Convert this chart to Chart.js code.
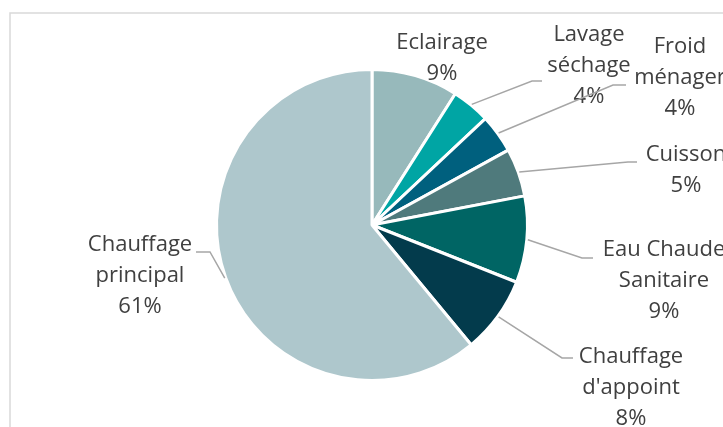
<!DOCTYPE html>
<html>
<head>
<meta charset="utf-8">
<script src="https://cdn.jsdelivr.net/npm/chart.js@4"></script>
<style>
  body { margin: 0; background: #fff; }
</style>
</head>
<body>
<canvas id="pieChart" width="723" height="427"></canvas>
<script>
const categories = ['Eclairage', 'Lavage séchage', 'Froid ménager', 'Cuisson', 'Eau Chaude Sanitaire', "Chauffage d'appoint", 'Chauffage principal'];
const shares = [9, 4, 4, 5, 9, 8, 61];
const sliceColors = ['#97b9bb', '#00a5a4', '#00607e', '#4f7a7c', '#006564', '#033b4c', '#aec7cc'];
const labelLines = [['Eclairage'], ['Lavage', 'séchage'], ['Froid', 'ménager'], ['Cuisson'], ['Eau Chaude', 'Sanitaire'], ['Chauffage', "d'appoint"], ['Chauffage', 'principal']];

// where each label sits: text centre / first line, plus leader elbow and end
const labelPlaces = [
    { text: [442, 43], elbow: null },
    { text: [589, 35], elbow: [532, 81], end: 542 },
    { text: [680, 47], elbow: [613, 85], end: 626 },
    { text: [686, 155], elbow: [628, 162], end: 637 },
    { text: [664, 250], elbow: [582, 258], end: 593 },
    { text: [631, 357], elbow: [562, 358], end: 573 },
    { text: [140, 245], elbow: [210, 252], end: 196 }
];

const frame = {
    id: 'frame',
    beforeDraw(chart) {
        const c = chart.ctx;
        c.save();
        c.strokeStyle = '#d9d9d9';
        c.lineWidth = 1.5;
        c.beginPath();
        c.moveTo(10, 427);
        c.lineTo(10, 13);
        c.lineTo(723, 13);
        c.stroke();
        c.restore();
    }
};

const sliceLabels = {
    id: 'sliceLabels',
    afterDatasetsDraw(chart) {
        const c = chart.ctx;
        const arcs = chart.getDatasetMeta(0).data;
        c.save();
        c.font = '22px "Open Sans"';
        c.fillStyle = '#404040';
        c.textAlign = 'center';
        c.textBaseline = 'middle';
        arcs.forEach((arc, i) => {
            const p = labelPlaces[i];
            if (p.elbow) {
                const mid = (arc.startAngle + arc.endAngle) / 2;
                const r = arc.outerRadius + 1;
                c.strokeStyle = '#a6a6a6';
                c.lineWidth = 1.5;
                c.beginPath();
                c.moveTo(arc.x + Math.cos(mid) * r, arc.y + Math.sin(mid) * r);
                c.lineTo(p.elbow[0], p.elbow[1]);
                c.lineTo(p.end, p.elbow[1]);
                c.stroke();
            }
            const lines = labelLines[i].concat([shares[i] + '%']);
            lines.forEach((t, k) => c.fillText(t, p.text[0], p.text[1] + k * 31));
        });
        c.restore();
    }
};

const ctx = document.getElementById('pieChart').getContext('2d');
new Chart(ctx, {
    type: 'pie',
    data: {
        labels: categories,
        datasets: [{
            data: shares,
            backgroundColor: sliceColors,
            borderColor: '#ffffff',
            borderWidth: 3
        }]
    },
    options: {
        responsive: false,
        animation: false,
        layout: { padding: { left: 215, right: 194, top: 68, bottom: 45 } },
        plugins: {
            legend: { display: false },
            tooltip: { enabled: false }
        }
    },
    plugins: [frame, sliceLabels]
});
</script>
</body>
</html>
